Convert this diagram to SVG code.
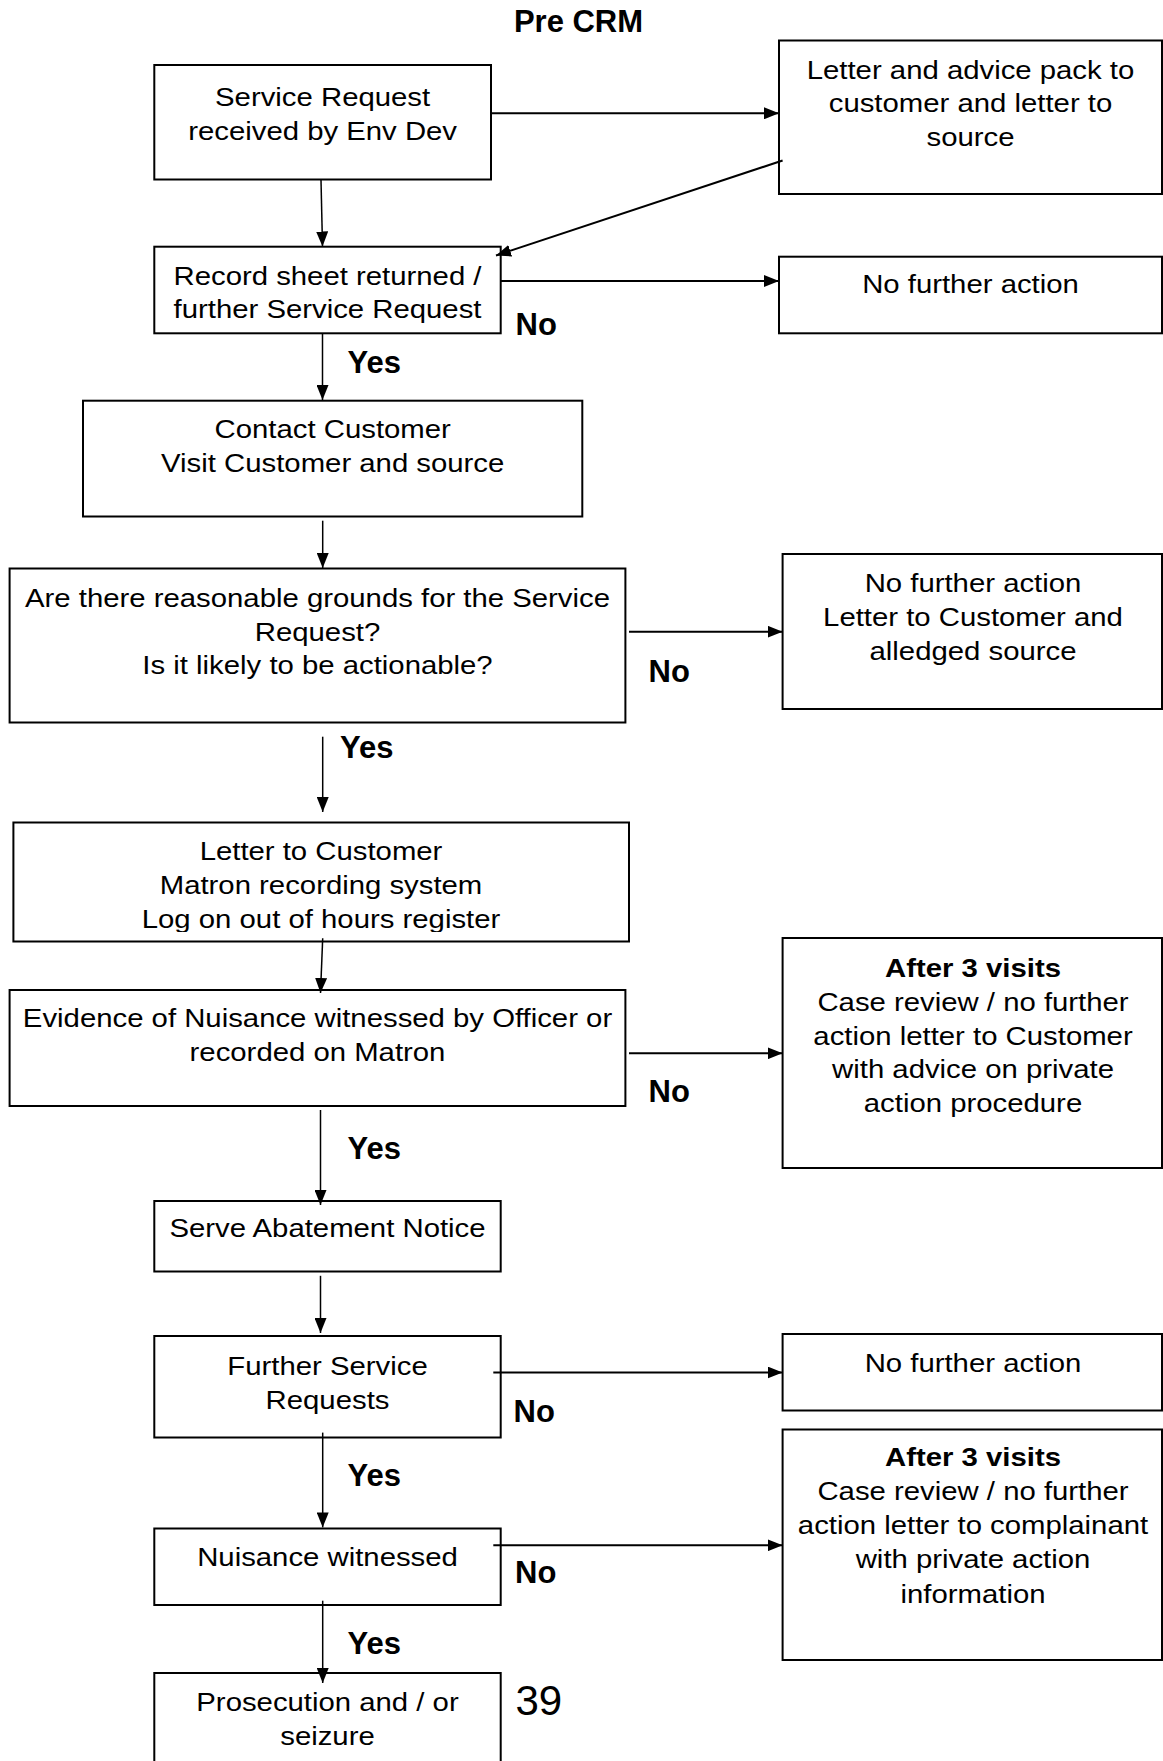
<svg xmlns="http://www.w3.org/2000/svg" width="1163" height="1761" viewBox="0 0 1163 1761">
<style>
.box{fill:#fff;stroke:#000;stroke-width:2}
.t{font-family:"Liberation Sans",Arial,sans-serif;font-size:25.5px;text-anchor:middle;fill:#000}
.tb{font-family:"Liberation Sans",Arial,sans-serif;font-size:25.5px;font-weight:bold;text-anchor:middle;fill:#000}
.lbl{font-family:"Liberation Sans",Arial,sans-serif;font-size:31px;font-weight:bold;fill:#000}
.c{fill:none;stroke:#000;stroke-width:1.5}
.ch{fill:none;stroke:#000;stroke-width:2}
</style>
<defs>
<marker id="ah" markerUnits="userSpaceOnUse" markerWidth="15" markerHeight="12" refX="15" refY="6" orient="auto" viewBox="0 0 15 12">
<path d="M0,0 L15,6 L0,12 z" fill="#000"/>
</marker>
<clipPath id="clip8"><rect x="13" y="822" width="616" height="110"/></clipPath>
</defs>
<rect width="1163" height="1761" fill="#fff"/>

<text id="title" x="578.5" y="31.5" class="lbl" text-anchor="middle">Pre CRM</text>

<g id="n1">
<rect class="box" x="154.3" y="65" width="336.7" height="114.5"/>
<g transform="translate(322.6,0) scale(1.15,1)"><text class="t" x="0" y="106">Service Request</text><text class="t" x="0" y="140.5">received by Env Dev</text></g>
</g>

<g id="n2">
<rect class="box" x="779" y="40.5" width="383" height="153.5"/>
<g transform="translate(970.5,0) scale(1.15,1)"><text class="t" x="0" y="79">Letter and advice pack to</text><text class="t" x="0" y="112.5">customer and letter to</text><text class="t" x="0" y="146">source</text></g>
</g>

<g id="n3">
<rect class="box" x="154.3" y="246.7" width="346.4" height="86.6"/>
<g transform="translate(327.5,0) scale(1.15,1)"><text class="t" x="0" y="285">Record sheet returned /</text><text class="t" x="0" y="318.5">further Service Request</text></g>
</g>

<g id="n4">
<rect class="box" x="779" y="256.7" width="383" height="76.6"/>
<g transform="translate(970.5,0) scale(1.15,1)"><text class="t" x="0" y="293.5">No further action</text></g>
</g>

<g id="n5">
<rect class="box" x="83" y="400.7" width="499.3" height="115.8"/>
<g transform="translate(332.7,0) scale(1.15,1)"><text class="t" x="0" y="438.5">Contact Customer</text><text class="t" x="0" y="472">Visit Customer and source</text></g>
</g>

<g id="n6">
<rect class="box" x="9.6" y="568.5" width="615.8" height="154"/>
<g transform="translate(317.5,0) scale(1.15,1)"><text class="t" x="0" y="607.5">Are there reasonable grounds for the Service</text><text class="t" x="0" y="641">Request?</text><text class="t" x="0" y="674.5">Is it likely to be actionable?</text></g>
</g>

<g id="n7">
<rect class="box" x="782.6" y="554" width="379.4" height="155"/>
<g transform="translate(973,0) scale(1.15,1)"><text class="t" x="0" y="592">No further action</text><text class="t" x="0" y="626">Letter to Customer and</text><text class="t" x="0" y="660">alledged source</text></g>
</g>

<g id="n8">
<rect class="box" x="13.4" y="822.5" width="615.6" height="119"/>
<g clip-path="url(#clip8)"><g transform="translate(321,0) scale(1.15,1)"><text class="t" x="0" y="860">Letter to Customer</text><text class="t" x="0" y="894">Matron recording system</text><text class="t" x="0" y="928">Log on out of hours register</text></g></g>
</g>

<g id="n9">
<rect class="box" x="9.6" y="990" width="615.8" height="116"/>
<g transform="translate(317.5,0) scale(1.15,1)"><text class="t" x="0" y="1027">Evidence of Nuisance witnessed by Officer or</text><text class="t" x="0" y="1061">recorded on Matron</text></g>
</g>

<g id="n10">
<rect class="box" x="782.6" y="938" width="379.4" height="230"/>
<g transform="translate(973,0) scale(1.15,1)"><text class="tb" x="0" y="977">After 3 visits</text><text class="t" x="0" y="1011">Case review / no further</text><text class="t" x="0" y="1045">action letter to Customer</text><text class="t" x="0" y="1078.5">with advice on private</text><text class="t" x="0" y="1112">action procedure</text></g>
</g>

<g id="n11">
<rect class="box" x="154.3" y="1201" width="346.4" height="70.5"/>
<g transform="translate(327.5,0) scale(1.15,1)"><text class="t" x="0" y="1237.5">Serve Abatement Notice</text></g>
</g>

<g id="n12">
<rect class="box" x="154.3" y="1336" width="346.4" height="101.5"/>
<g transform="translate(327.5,0) scale(1.15,1)"><text class="t" x="0" y="1375.5">Further Service</text><text class="t" x="0" y="1409.5">Requests</text></g>
</g>

<g id="n13">
<rect class="box" x="782.6" y="1334" width="379.4" height="76.5"/>
<g transform="translate(973,0) scale(1.15,1)"><text class="t" x="0" y="1372">No further action</text></g>
</g>

<g id="n14">
<rect class="box" x="154.3" y="1528.5" width="346.4" height="76.5"/>
<g transform="translate(327.5,0) scale(1.15,1)"><text class="t" x="0" y="1566.5">Nuisance witnessed</text></g>
</g>

<g id="n15">
<rect class="box" x="782.6" y="1429.5" width="379.4" height="230.5"/>
<g transform="translate(973,0) scale(1.15,1)"><text class="tb" x="0" y="1466.5">After 3 visits</text><text class="t" x="0" y="1500.5">Case review / no further</text><text class="t" x="0" y="1534.5">action letter to complainant</text><text class="t" x="0" y="1568.5">with private action</text><text class="t" x="0" y="1602.5">information</text></g>
</g>

<g id="n16">
<rect class="box" x="154.3" y="1673" width="346.4" height="100"/>
<g transform="translate(327.5,0) scale(1.15,1)"><text class="t" x="0" y="1711.5">Prosecution and / or</text><text class="t" x="0" y="1745.5">seizure</text></g>
</g>

<g id="labels">
<text class="lbl" x="515.5" y="335">No</text>
<text class="lbl" x="347.5" y="373">Yes</text>
<text class="lbl" x="648.5" y="681.5">No</text>
<text class="lbl" x="340" y="758">Yes</text>
<text class="lbl" x="648.5" y="1101.5">No</text>
<text class="lbl" x="347.5" y="1159">Yes</text>
<text class="lbl" x="513.5" y="1421.5">No</text>
<text class="lbl" x="347.5" y="1486">Yes</text>
<text class="lbl" x="515" y="1582.5">No</text>
<text class="lbl" x="347.5" y="1654">Yes</text>
<text x="515.5" y="1715" font-family="Liberation Sans, Arial, sans-serif" font-size="42" fill="#000">39</text>
</g>

<g id="connectors">
<line class="ch" x1="491" y1="113.3" x2="779" y2="113.3" marker-end="url(#ah)"/>
<line class="c" x1="321" y1="180" x2="322.5" y2="246.5" marker-end="url(#ah)"/>
<line class="ch" x1="782.6" y1="160.5" x2="496" y2="255.5" marker-end="url(#ah)"/>
<line class="ch" x1="500.7" y1="281" x2="779" y2="281" marker-end="url(#ah)"/>
<line class="c" x1="322.5" y1="333.3" x2="322.5" y2="400" marker-end="url(#ah)"/>
<line class="c" x1="322.7" y1="520.7" x2="322.7" y2="568" marker-end="url(#ah)"/>
<line class="ch" x1="629" y1="631.7" x2="782.6" y2="631.7" marker-end="url(#ah)"/>
<line class="c" x1="322.7" y1="736.7" x2="322.7" y2="812" marker-end="url(#ah)"/>
<line class="c" x1="322.7" y1="938.3" x2="320.5" y2="993" marker-end="url(#ah)"/>
<line class="ch" x1="629" y1="1053.3" x2="782.6" y2="1053.3" marker-end="url(#ah)"/>
<line class="c" x1="320.5" y1="1110" x2="320.5" y2="1205" marker-end="url(#ah)"/>
<line class="c" x1="320.5" y1="1275.8" x2="320.5" y2="1333" marker-end="url(#ah)"/>
<line class="ch" x1="493.3" y1="1372.5" x2="782.6" y2="1372.5" marker-end="url(#ah)"/>
<line class="c" x1="322.7" y1="1432.6" x2="322.7" y2="1527.4" marker-end="url(#ah)"/>
<line class="ch" x1="493.3" y1="1545.3" x2="782.6" y2="1545.3" marker-end="url(#ah)"/>
<line class="c" x1="322.7" y1="1600.7" x2="322.7" y2="1683" marker-end="url(#ah)"/>
</g>
</svg>
